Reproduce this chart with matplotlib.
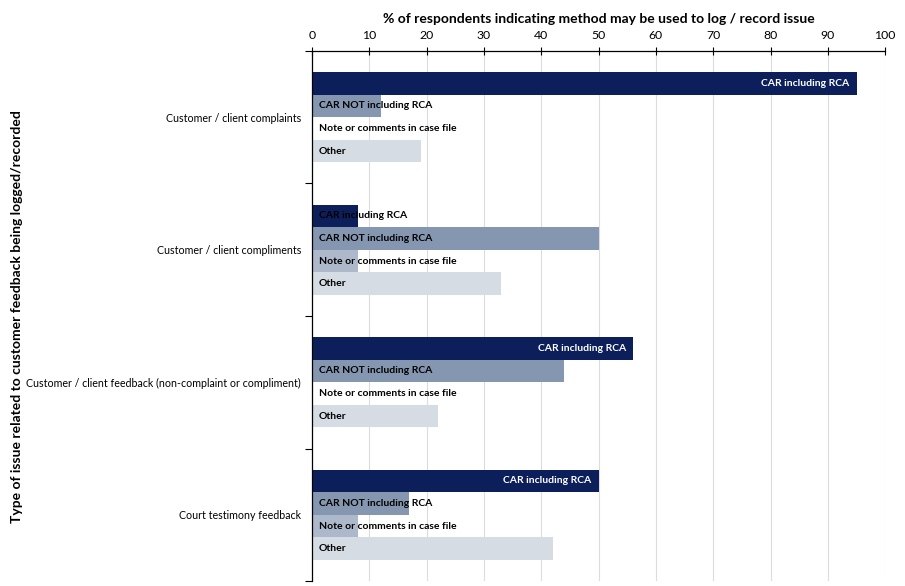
import numpy as np
import matplotlib.pyplot as plt

plt.rcParams['font.family'] = ['Lato', 'DejaVu Sans']

categories = ['Customer / client complaints',
              'Customer / client compliments',
              'Customer / client feedback (non-complaint or compliment)',
              'Court testimony feedback']
methods = ['CAR including RCA', 'CAR NOT including RCA',
           'Note or comments in case file', 'Other']
car_rca = [95, 8, 56, 50]
car_no_rca = [12, 50, 44, 17]
note_case = [0, 8, 0, 8]
other = [19, 33, 22, 42]
series = [car_rca, car_no_rca, note_case, other]

colors = ['#0c1f5b', '#8496b0', '#adb9ca', '#d6dce4']
bar_h = 0.17

fig = plt.figure(figsize=(9.05, 5.86), dpi=100)
ax = fig.add_axes([0.3448, 0.0085, 0.6333, 0.9045])

ypos = np.arange(len(categories))
for k, (vals, col, name) in enumerate(zip(series, colors, methods)):
    yc = ypos + 0.5 + (k - 1.5) * bar_h
    ax.barh(yc, vals, height=bar_h, color=col, zorder=2)
    for y, v in zip(yc, vals):
        if k == 0 and v > 30:
            ax.text(v - 1.2, y, name, ha='right', va='center', color='white',
                    fontsize=7.5, fontweight='bold', zorder=3)
        else:
            ax.text(1.2, y, name, ha='left', va='center', color='black',
                    fontsize=7.5, fontweight='bold', zorder=3)

ax.set_xlim(0, 100)
ax.set_ylim(len(categories), 0)
ax.set_xticks(np.arange(0, 101, 10))
ax.xaxis.tick_top()
ax.xaxis.set_label_position('top')
ax.tick_params(axis='x', direction='inout', length=6, labelsize=8.8, pad=4)
ax.grid(axis='x', color='#dcdcdc', lw=0.8, zorder=0)

# group boundaries get tick marks, category names sit between them
ax.set_yticks(np.arange(len(categories) + 1))
ax.set_yticklabels([])
ax.set_yticks(ypos + 0.5, minor=True)
ax.set_yticklabels(categories, minor=True, fontsize=7.7)
ax.tick_params(axis='y', which='major', direction='out', length=5)
ax.tick_params(axis='y', which='minor', length=0, pad=8)

for s in ['right', 'bottom']:
    ax.spines[s].set_visible(False)
ax.spines['top'].set_linewidth(0.9)
ax.spines['left'].set_linewidth(0.9)

ax.set_xlabel('% of respondents indicating method may be used to log / record issue',
              fontsize=10, fontweight='bold', labelpad=5)
fig.text(0.019, 0.46, 'Type of issue related to customer feedback being logged/recorded',
         rotation=90, ha='center', va='center', fontsize=10, fontweight='bold')

fig.savefig('out.png', dpi=100)
